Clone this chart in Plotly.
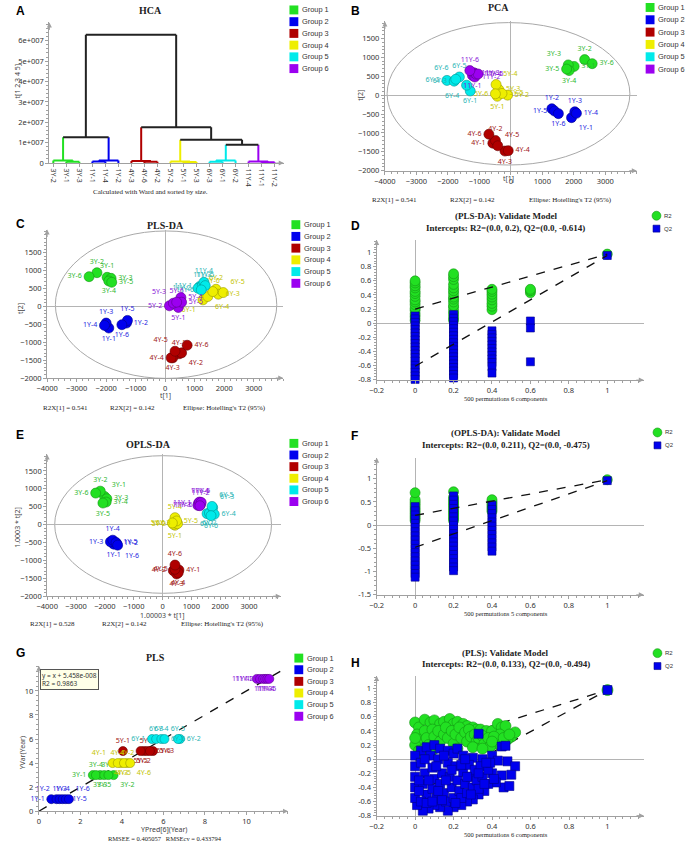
import plotly.graph_objects as go

W, H = 686, 849
SERIF = "Liberation Serif"
SANS = "Noto Sans"
LEG = "Liberation Sans"
AX_COL = "#a0a0a0"

group_names = ["Group 1", "Group 2", "Group 3", "Group 4", "Group 5", "Group 6"]
group_fill = ["#22e022", "#0000ee", "#b00000", "#eeee00", "#00eaea", "#9b00f0"]
group_edge = ["#149614", "#000088", "#6a0000", "#9a9a00", "#009393", "#5a008c"]
group_text = ["#2fb82f", "#2626e0", "#a01515", "#c4c400", "#1fb4b4", "#8a16d8"]

# ---- A: HCA dendrogram ----
hca_leaves = ["3Y-2", "3Y-1", "3Y-3", "1Y-1", "1Y-4", "1Y-2", "4Y-3", "4Y-6", "4Y-2",
              "5Y-2", "5Y-1", "5Y-3", "6Y-3", "6Y-1", "6Y-2", "11Y-4", "11Y-1", "11Y-2"]
hca_leaf_group = [0, 0, 0, 1, 1, 1, 2, 2, 2, 3, 3, 3, 4, 4, 4, 5, 5, 5]
hca_left = [1, 0, 3, 20, 7, 6, 10, 9, 12, 26, 16, 15, 19, 27, 25, 23, 30]
hca_right = [2, 18, 4, 5, 8, 22, 11, 24, 13, 14, 17, 28, 21, 29, 31, 32, 33]
hca_height = [0.06e7, 0.12e7, 0.08e7, 0.13e7, 0.06e7, 0.10e7, 0.05e7, 0.08e7, 0.06e7,
              0.12e7, 0.04e7, 0.07e7, 1.26e7, 0.90e7, 1.14e7, 1.75e7, 6.30e7]

# ---- score plots (B, C, E, G) ----
samples = ["1Y-1", "1Y-2", "1Y-3", "1Y-4", "1Y-5", "1Y-6",
           "3Y-1", "3Y-2", "3Y-3", "3Y-4", "3Y-5", "3Y-6",
           "4Y-1", "4Y-2", "4Y-3", "4Y-4", "4Y-5", "4Y-6",
           "5Y-1", "5Y-2", "5Y-3", "5Y-4", "5Y-5", "5Y-6",
           "6Y-1", "6Y-2", "6Y-3", "6Y-4", "6Y-5", "6Y-6",
           "11Y-1", "11Y-2", "11Y-3", "11Y-4", "11Y-5", "11Y-6"]

pca_x = [1927, 1302, 2031, 2083, 1385, 1510,
         2010, 2344, 1823, 1850, 1771, 2583,
         -573, -490, -188, -83, -417, -698,
         -430, -104, -385, -469, -281, -490,
         -1290, -2030, -1800, -1406, -1635, -1750,
         -1219, -1146, -1167, -1100, -1040, -1302]
pca_y = [-596, -360, -440, -480, -420, -490,
         760, 940, 800, 650, 690, 833,
         -1272, -1200, -1480, -1470, -1340, -1035,
         -30, 0, 150, 281, 44, 35,
         110, 390, 370, 263, 480, 420,
         520, 480, 590, 555, 560, 650]
pca_group = {"3Y": 0, "1Y": 1, "4Y": 2, "5Y": 3, "6Y": 4, "11Y": 5}
pca_pos = ["br", "t", "t", "r", "l", "b", "r", "t", "tl", "b", "l", "r",
           "l", "t", "b", "r", "tr", "l", "b", "r", "r", "tr", "r", "l",
           "b", "l", "l", "bl", "t", "tl", "b", "r", "r", "r", "r", "t"]
pca_r2x = ["R2X[1] = 0.541", "R2X[2] = 0.142"]

plsda_x = [-1911, -1311, -2000, -2056, -1278, -1467,
           -1967, -2311, -1833, -1911, -1811, -2578,
           467, 556, 256, 200, 333, 744,
           444, 144, 278, 533, 556, 389,
           1278, 1722, 1800, 1444, 1967, 1611,
           1167, 1111, 1256, 1311, 1356, 1222]
plsda_y = [-602, -463, -463, -528, -389, -509,
           815, 944, 787, 713, 676, 833,
           -1324, -1296, -1435, -1435, -1250, -1083,
           -28, 19, 93, 250, 120, 120,
           185, 481, 343, 278, 389, 417,
           556, 509, 583, 676, 583, 463]
plsda_group = {"3Y": 0, "1Y": 1, "4Y": 2, "6Y": 3, "11Y": 4, "5Y": 5}
plsda_pos = ["b", "r", "t", "l", "t", "b", "t", "t", "r", "b", "r", "l",
             "t", "br", "b", "l", "tl", "r", "b", "l", "tl", "r", "r", "t",
             "bl", "t", "r", "br", "tr", "t", "l", "l", "t", "t", "t", "l"]

opls_x = [-1693, -1591, -1807, -1727, -1614, -1557,
          -2011, -2159, -1932, -1955, -2068, -2318,
          568, 375, 489, 545, 432, 432,
          432, 375, 523, 432, 489, 341,
          1545, 1625, 1739, 1795, 1716, 1682,
          1250, 1318, 1227, 1284, 1341, 1295]
opls_y = [-546, -528, -481, -435, -500, -574,
          787, 935, 722, 630, 602, 880,
          -1269, -1287, -1380, -1343, -1250, -1130,
          -19, 9, 28, 194, 102, 46,
          306, 324, 472, 287, 509, 250,
          602, 565, 537, 630, 620, 528]
opls_group = {"3Y": 0, "1Y": 1, "4Y": 2, "5Y": 3, "6Y": 4, "11Y": 5}
opls_pos = ["b", "r", "l", "t", "r", "br", "tr", "t", "r", "r", "b", "l",
            "r", "l", "b", "b", "l", "t", "b", "l", "l", "t", "r", "l",
            "b", "b", "tr", "r", "tr", "b", "l", "t", "l", "t", "t", "l"]
opls_r2x = ["R2X[1] = 0.528", "R2X[2] = 0.142"]

pls_x = [0.6, 0.85, 1.0, 1.15, 1.3, 1.45,
         2.6, 3.6, 2.95, 2.75, 3.15, 3.35,
         3.55, 4.25, 3.95, 3.8, 4.1, 4.4,
         4.05, 5.05, 5.5, 5.2, 4.9, 5.35,
         5.45, 6.8, 5.65, 5.9, 6.7, 6.05,
         10.5, 10.65, 10.8, 10.9, 11.0, 11.1]
pls_y = [1, 1, 1, 1, 1, 1,
         3, 3, 3, 3, 3, 3,
         4, 4, 4, 4, 4, 4,
         5, 5, 5, 5, 5, 5,
         6, 6, 6, 6, 6, 6,
         11, 11, 11, 11, 11, 11]
pls_group = {"3Y": 0, "1Y": 1, "5Y": 2, "4Y": 3, "6Y": 4, "11Y": 5}
pls_pos = ["l", "tl", "t", "t", "r", "tr", "l", "br", "b", "t", "b", "t",
           "tl", "t", "b", "t", "b", "br", "t", "b", "r", "t", "b", "r",
           "l", "r", "t", "t", "t", "r", "l", "l", "b", "b", "b", "l"]
pls_intercept = 5.458e-8
pls_r2 = 0.9863

# ---- permutation tests (D, F, H) ----
perm_x = [0.0, 0.2, 0.4, 0.6, 1.0]
d_r2 = [[0.04, 0.09, 0.13, 0.18, 0.21, 0.26, 0.3, 0.33, 0.38, 0.42, 0.45, 0.5, 0.53, 0.57, 0.6],
        [0.04, 0.08, 0.13, 0.17, 0.22, 0.25, 0.3, 0.34, 0.37, 0.42, 0.46, 0.5, 0.55, 0.62, 0.66, 0.7],
        [0.19, 0.24, 0.28, 0.33, 0.37, 0.41, 0.45, 0.48],
        [0.43, 0.46, 0.48],
        [0.98]]
d_q2 = [[0.1, 0.06, 0.01, -0.04, -0.09, -0.14, -0.19, -0.24, -0.29, -0.34, -0.39, -0.44,
         -0.49, -0.54, -0.6, -0.65, -0.7, -0.75, -0.8],
        [0.12, 0.07, 0.02, -0.03, -0.08, -0.13, -0.18, -0.23, -0.28, -0.33, -0.38, -0.43,
         -0.48, -0.53, -0.58, -0.63, -0.68, -0.73, -0.78],
        [-0.11, -0.16, -0.21, -0.26, -0.31, -0.36, -0.41, -0.46, -0.51, -0.56, -0.62, -0.71],
        [0.03, -0.07, -0.55],
        [0.96]]
d_intercepts = [0.2, -0.614]

f_r2 = [[0.1, 0.15, 0.2, 0.25, 0.3, 0.35, 0.4, 0.45, 0.5, 0.55, 0.7],
        [0.1, 0.15, 0.2, 0.25, 0.3, 0.35, 0.4, 0.45, 0.5, 0.55, 0.6, 0.72],
        [0.3, 0.35, 0.4, 0.45, 0.5, 0.55],
        [],
        [0.98]]
f_q2 = [[0.4, 0.31, 0.22, 0.13, 0.04, -0.05, -0.14, -0.23, -0.32, -0.41, -0.5, -0.59,
         -0.68, -0.77, -0.86, -0.95, -1.04, -1.12],
        [0.63, 0.54, 0.45, 0.36, 0.27, 0.18, 0.09, 0.0, -0.09, -0.18, -0.27, -0.36,
         -0.45, -0.54, -0.63, -0.72, -0.81, -0.9, -0.98],
        [0.43, 0.34, 0.25, 0.16, 0.07, -0.02, -0.11, -0.2, -0.29, -0.38, -0.47, -0.56],
        [],
        [0.96]]
f_intercepts = [0.211, -0.475]

h_r2_x = [0.0, 0.02, 0.05, 0.08, 0.1, 0.13, 0.15, 0.18, 0.2, 0.22, 0.25, 0.27, 0.3, 0.32,
          0.34, 0.37, 0.4, 0.43, 0.45, 0.47, 0.5, 0.52, 0.48, 0.44, 0.42,
          0.01, 0.03, 0.0, 0.02, 0.05, 0.06, 0.07, 0.09, 0.1, 0.12, 0.13, 0.15, 0.16, 0.17,
          0.19, 0.2, 0.21, 0.23, 0.24, 0.26, 0.27, 0.28, 0.29, 0.31, 0.32, 0.33, 0.35, 0.36,
          0.38, 0.39, 0.41, 0.4, 0.46, 0.49, 0.05, 0.1, 0.22, 0.3, 0.35, 0.02, 0.0, 0.08, 1.0]
h_r2_y = [0.52, 0.45, 0.56, 0.52, 0.55, 0.5, 0.53, 0.57, 0.5, 0.53, 0.5, 0.47, 0.45, 0.42,
          0.42, 0.4, 0.4, 0.5, 0.45, 0.47, 0.32, 0.38, 0.28, 0.35, 0.22,
          0.35, 0.28, 0.2, 0.12, 0.4, 0.3, 0.2, 0.42, 0.32, 0.4, 0.25, 0.35, 0.45, 0.3,
          0.4, 0.22, 0.35, 0.45, 0.3, 0.38, 0.25, 0.42, 0.32, 0.35, 0.25, 0.3, 0.33, 0.22,
          0.3, 0.18, 0.32, 0.25, 0.3, 0.35, 0.15, 0.15, 0.15, 0.17, 0.15, 0.05, 0.3, 0.08, 0.98]
h_q2_x = [0.03, 0.06, 0.1, 0.13, 0.17, 0.2, 0.22, 0.33, 0.25, 0.3, 0.35, 0.4, 0.43, 0.45,
          0.47, 0.48, 0.52, 0.5, 0.45, 0.46, 0.49, 0.42, 0.4, 0.38, 0.36, 0.33, 0.3, 0.27,
          0.24, 0.2, 0.17, 0.13, 0.1, 0.07, 0.04, 0.01, 0.0, 0.0, 0.0, 0.0, 0.0,
          0.03, 0.05, 0.04, 0.06, 0.03, 0.08, 0.09, 0.1, 0.09, 0.11, 0.12, 0.14, 0.13, 0.15,
          0.16, 0.17, 0.18, 0.19, 0.2, 0.21, 0.22, 0.23, 0.24, 0.25, 0.26, 0.27, 0.28, 0.29,
          0.3, 0.31, 0.32, 0.33, 0.34, 0.35, 0.36, 0.38, 0.39, 0.41, 0.37, 0.07, 0.12, 0.02,
          0.05, 0.15, 0.19, 0.24, 0.27, 0.16, 0.11, 0.06, 0.21, 0.09, 0.26, 0.02, 0.14, 0.29,
          0.33, 1.0]
h_q2_y = [0.12, 0.17, 0.2, 0.15, 0.12, 0.08, 0.15, 0.36, 0.05, 0.02, 0.0, 0.05, -0.02, 0.18,
          0.19, -0.03, -0.1, -0.22, -0.23, -0.4, -0.38, -0.33, -0.2, -0.35, -0.45, -0.5,
          -0.57, -0.6, -0.65, -0.68, -0.73, -0.68, -0.65, -0.7, -0.73, -0.65, -0.55, -0.4,
          -0.25, -0.1, 0.05,
          -0.05, -0.2, -0.35, -0.5, -0.6, 0.05, -0.12, -0.28, -0.42, -0.55, 0.0, -0.2, -0.35,
          -0.48, -0.6, -0.05, -0.25, -0.4, -0.55, -0.1, -0.3, -0.45, -0.55, -0.18, -0.35,
          -0.48, -0.08, -0.25, -0.4, -0.15, -0.3, -0.42, -0.1, -0.25, -0.35, -0.15, -0.05,
          -0.28, -0.05, -0.3, -0.45, -0.45, 0.0, 0.05, -0.15, -0.08, -0.25, -0.3, -0.1, -0.62,
          -0.62, -0.6, 0.0, -0.3, -0.58, -0.5, -0.2, 0.98]
h_intercepts = [0.133, -0.494]
h_ends = [0.98, 0.98]

POS = {"t": "top center", "b": "bottom center", "l": "middle left", "r": "middle right",
       "tl": "top left", "tr": "top right", "bl": "bottom left", "br": "bottom right"}

fig = go.Figure()
layout = dict(width=W, height=H, margin=dict(l=0, r=0, t=0, b=0),
              paper_bgcolor="white", plot_bgcolor="white", showlegend=False)
shapes = []
annotations = []


def note(px, py, s, size=8, family=SERIF, color="#222", xanchor="center", angle=0, bold=False):
    annotations.append(dict(x=px / W, y=1 - py / H, xref="paper", yref="paper",
                            text="<b>%s</b>" % s if bold else s, showarrow=False,
                            font=dict(size=size, family=family, color=color),
                            xanchor=xanchor, yanchor="middle", textangle=angle))


def add_axes(k, xr, yr, xcal, ycal, xt, yt, xtt=None, ytt=None, xminor=None, yminor=None,
             zero=True, xangle=0, xfont=7.5):
    sx = "" if k == 1 else str(k)
    # calibration: (pixel of value 0, pixels per unit)
    x0 = xcal[0] + xr[0] * xcal[1]
    x1 = xcal[0] + xr[1] * xcal[1]
    ytop = ycal[0] - yr[1] * ycal[1]
    ybot = ycal[0] - yr[0] * ycal[1]
    common = dict(showline=True, linecolor=AX_COL, linewidth=1, ticks="outside", ticklen=3,
                  tickcolor=AX_COL, showgrid=False, zeroline=zero, zerolinecolor="#b4b4b4",
                  zerolinewidth=1, fixedrange=True, tickmode="array")
    xaxis = dict(common, domain=[x0 / W, x1 / W], range=xr, anchor="y" + sx,
                 tickvals=xt, ticktext=xtt, tickangle=xangle,
                 tickfont=dict(family=SANS, size=xfont, color="#333"))
    yaxis = dict(common, domain=[1 - ybot / H, 1 - ytop / H], range=yr,
                 anchor="x" + sx, tickvals=yt, ticktext=ytt,
                 tickfont=dict(family=SANS, size=7.5, color="#333"))
    if xminor:
        xaxis["minor"] = dict(ticks="outside", ticklen=2, tickcolor=AX_COL, dtick=xminor,
                              showgrid=False)
    if yminor:
        yaxis["minor"] = dict(ticks="outside", ticklen=2, tickcolor=AX_COL, dtick=yminor,
                              showgrid=False)
    layout["xaxis" + sx] = xaxis
    layout["yaxis" + sx] = yaxis
    xref, yref = "x" + sx, "y" + sx
    annotations.append(dict(x=xr[1], y=yr[0], xref=xref, yref=yref, ax=-9, ay=0, text="",
                            showarrow=True, arrowhead=2, arrowsize=1, arrowwidth=1,
                            arrowcolor=AX_COL))
    annotations.append(dict(x=xr[0], y=yr[1], xref=xref, yref=yref, ax=0, ay=9, text="",
                            showarrow=True, arrowhead=2, arrowsize=1, arrowwidth=1,
                            arrowcolor=AX_COL))
    return xref, yref


def square_legend(px, py0, step):
    for i, (n, c) in enumerate(zip(group_names, group_fill)):
        cy = py0 + i * step
        shapes.append(dict(type="rect", xref="paper", yref="paper", x0=px / W, x1=(px + 9) / W,
                           y0=1 - (cy + 4.5) / H, y1=1 - (cy - 4.5) / H, fillcolor=c,
                           line=dict(width=0)))
        note(px + 11, cy, n, size=7.4, family=LEG, color="#333", xanchor="left")


def perm_legend(px, py):
    shapes.append(dict(type="circle", xref="paper", yref="paper", x0=(px - 4.5) / W,
                       x1=(px + 4.5) / W, y0=1 - (py + 4.5) / H, y1=1 - (py - 4.5) / H,
                       fillcolor=group_fill[0], line=dict(color=group_edge[0], width=0.6)))
    note(px + 6, py, "R2", size=6, family=LEG, color="#333", xanchor="left")
    shapes.append(dict(type="rect", xref="paper", yref="paper", x0=(px - 3.5) / W,
                       x1=(px + 3.5) / W, y0=1 - (py + 13 + 3.5) / H, y1=1 - (py + 13 - 3.5) / H,
                       fillcolor=group_fill[1], line=dict(color=group_edge[1], width=0.6)))
    note(px + 6, py + 13, "Q2", size=6, family=LEG, color="#333", xanchor="left")


def score_points(xref, yref, xs, ys, gmap, pos, size=10):
    for g in range(6):
        idx = [i for i, s in enumerate(samples) if gmap[s.split("-")[0]] == g]
        fig.add_trace(go.Scatter(
            x=[xs[i] for i in idx], y=[ys[i] for i in idx], xaxis=xref, yaxis=yref,
            mode="markers+text", text=[samples[i] for i in idx],
            textposition=[POS[pos[i]] for i in idx],
            textfont=dict(family=SANS, size=7, color=group_text[g]),
            marker=dict(size=size, color=group_fill[g], line=dict(color=group_edge[g], width=0.6)),
            cliponaxis=False, hoverinfo="skip"))


def ellipse(xref, yref, ex, ey):
    shapes.append(dict(type="circle", xref=xref, yref=yref, x0=ex[0], x1=ex[1], y0=ey[0],
                       y1=ey[1], line=dict(color="#a8a8a8", width=1), layer="below"))


def perm_points(xref, yref, r2x, r2y, q2x, q2y, intercepts, ends, size_c=10, size_s=8,
                lines_on_top=True):
    def lines():
        for b, e in zip(intercepts, ends):
            fig.add_trace(go.Scatter(x=[0, 1], y=[b, e], xaxis=xref, yaxis=yref, mode="lines",
                                     line=dict(color="#111", width=1.3, dash="dash"),
                                     hoverinfo="skip"))
    if not lines_on_top:
        lines()
    fig.add_trace(go.Scatter(x=r2x, y=r2y, xaxis=xref, yaxis=yref, mode="markers",
                             marker=dict(size=size_c, color=group_fill[0],
                                         line=dict(color=group_edge[0], width=0.6)),
                             cliponaxis=False, hoverinfo="skip"))
    fig.add_trace(go.Scatter(x=q2x, y=q2y, xaxis=xref, yaxis=yref, mode="markers",
                             marker=dict(size=size_s, symbol="square", color=group_fill[1],
                                         line=dict(color=group_edge[1], width=0.6)),
                             cliponaxis=False, hoverinfo="skip"))
    if lines_on_top:
        lines()


def columns(cols):
    xs, ys = [], []
    for px_, vals in zip(perm_x, cols):
        xs += [px_] * len(vals)
        ys += vals
    return xs, ys


# ================= A: HCA =================
xa, ya = add_axes(1, [-0.3, 17.7], [0, 6.9e7], (43, 13.23), (164, 20.5e-7),
                  list(range(len(hca_leaves))), [0, 1e7, 2e7, 3e7, 4e7, 5e7, 6e7],
                  xtt=hca_leaves,
                  ytt=["0", "1e+007", "2e+007", "3e+007", "4e+007", "5e+007", "6e+007"],
                  yminor=2e6, zero=False, xangle=90, xfont=7)
node_x = list(range(len(hca_leaves)))
node_h = [0.0] * len(hca_leaves)
node_g = list(hca_leaf_group)
segs = {}
for a, b, h in zip(hca_left, hca_right, hca_height):
    g = node_g[a] if node_g[a] == node_g[b] else None
    for c in (a, b):
        segs.setdefault(node_g[c], []).append(((node_x[c], node_h[c]), (node_x[c], h)))
    segs.setdefault(g, []).append(((node_x[a], h), (node_x[b], h)))
    node_x.append((node_x[a] + node_x[b]) / 2)
    node_h.append(h)
    node_g.append(g)
for g, lst in segs.items():
    xs, ys = [], []
    for p, q in lst:
        xs += [p[0], q[0], None]
        ys += [p[1], q[1], None]
    fig.add_trace(go.Scatter(x=xs, y=ys, xaxis=xa, yaxis=ya, mode="lines",
                             line=dict(color="#222" if g is None else group_fill[g], width=2),
                             hoverinfo="skip"))
note(142, 11, "HCA", size=10, bold=True)
note(7, 82, "t[1 2 3 4 5]", size=7, family=SANS, color="#444", angle=-90)
note(142, 193, "Calculated with Ward and sorted by size.", size=7)
square_legend(283, 10, 11.8)

# ================= B: PCA =================
xb, yb = add_axes(2, [-4000, 4000], [-2000, 1950], (508, 0.032), (95.7, 0.038),
                  [-4000, -3000, -2000, -1000, 0, 1000, 2000, 3000],
                  [-2000, -1500, -1000, -500, 0, 500, 1000, 1500], xminor=200, yminor=100)
ellipse(xb, yb, [-3930, 3780], [-1850, 1920])
score_points(xb, yb, pca_x, pca_y, pca_group, pca_pos)
note(495, 8, "PCA", size=10, bold=True)
note(506, 180, "t[1]", size=7, family=SANS, color="#444")
note(355, 96, "t[2]", size=7, family=SANS, color="#444", angle=-90)
note(390, 201, pca_r2x[0], size=7)
note(469, 201, pca_r2x[1], size=7)
note(569, 201, "Ellipse: Hotelling's T2 (95%)", size=7)
square_legend(645, 7.5, 12.4)

# ================= C: PLS-DA =================
xc, yc = add_axes(3, [-4000, 4000], [-2000, 2150], (156.7, 0.030), (308.3, 0.036),
                  [-4000, -3000, -2000, -1000, 0, 1000, 2000, 3000],
                  [-2000, -1500, -1000, -500, 0, 500, 1000, 1500], xminor=200, yminor=100)
ellipse(xc, yc, [-3720, 3780], [-2010, 2110])
score_points(xc, yc, plsda_x, plsda_y, plsda_group, plsda_pos)
note(157, 227, "PLS-DA", size=10, bold=True)
note(157, 398, "t[1]", size=7, family=SANS, color="#444")
note(9, 310, "t[2]", size=7, family=SANS, color="#444", angle=-90)
note(55, 410, pca_r2x[0], size=7)
note(123, 410, pca_r2x[1], size=7)
note(217, 410, "Ellipse: Hotelling's T2 (95%)", size=7)
square_legend(285, 226, 11.8)

# ================= D: PLS-DA permutations =================
xd, yd = add_axes(4, [-0.2, 1.19], [-0.81, 1.18], (410.7, 195.3), (325, 70.8),
                  [-0.2, 0, 0.2, 0.4, 0.6, 0.8, 1],
                  [-0.8, -0.6, -0.4, -0.2, 0, 0.2, 0.4, 0.6, 0.8, 1],
                  ytt=["-0.8", "-0.6", "-0.4", "-0.2", "0", "0.2", "0.4", "0.6", "0.8", "1"],
                  xminor=0.04, yminor=0.04)
rx, ry = columns(d_r2)
qx, qy = columns(d_q2)
perm_points(xd, yd, rx, ry, qx, qy, d_intercepts, [d_r2[-1][0], d_q2[-1][0]])
note(503, 217, "(PLS-DA): Validate Model", size=9, bold=True)
note(503, 229, "Intercepts: R2=(0.0, 0.2), Q2=(0.0, -0.614)", size=9, bold=True)
note(503, 401, "500 permutations 6 components", size=6.5)
perm_legend(656, 217)

# ================= E: OPLS-DA =================
xe, ye = add_axes(5, [-4000, 4100], [-2000, 1960], (154, 0.0293), (527.7, 0.036),
                  [-4000, -3000, -2000, -1000, 0, 1000, 2000, 3000],
                  [-2000, -1500, -1000, -500, 0, 500, 1000, 1500], xminor=200, yminor=100)
ellipse(xe, ye, [-3740, 3780], [-1920, 1925])
score_points(xe, ye, opls_x, opls_y, opls_group, opls_pos)
note(140, 447, "OPLS-DA", size=10, bold=True)
note(154, 619, "1.00003 * t[1]", size=7, family=SANS, color="#444")
note(7, 530, "1.0003 * t[2]", size=7, family=SANS, color="#444", angle=-90)
note(42, 628, opls_r2x[0], size=7)
note(115, 628, opls_r2x[1], size=7)
note(215, 628, "Ellipse: Hotelling's T2 (95%)", size=7)
square_legend(283, 446, 11.7)

# ================= F: OPLS-DA permutations =================
xf, yf = add_axes(6, [-0.2, 1.19], [-1.5, 1.45], (410.7, 195.3), (528.3, 46.7),
                  [-0.2, 0, 0.2, 0.4, 0.6, 0.8, 1], [-1.5, -1, -0.5, 0, 0.5, 1],
                  ytt=["-1.5", "-1", "-0.5", "0", "0.5", "1"], xminor=0.04, yminor=0.1)
rx, ry = columns(f_r2)
qx, qy = columns(f_q2)
perm_points(xf, yf, rx, ry, qx, qy, f_intercepts, [f_r2[-1][0], f_q2[-1][0]])
note(503, 436, "(OPLS-DA): Validate Model", size=9, bold=True)
note(503, 448, "Intercepts: R2=(0.0, 0.211), Q2=(0.0, -0.475)", size=9, bold=True)
note(503, 617, "500 permutations 5 components", size=6.5)
perm_legend(657, 435)

# ================= G: PLS =================
xg, yg = add_axes(7, [0, 12], [0, 12.1], (28.3, 21.1), (816, 12.1),
                  [0, 2, 4, 6, 8, 10], [0, 2, 4, 6, 8, 10], xminor=0.4, yminor=0.4, zero=False)
fit_x = [0, 12]
fig.add_trace(go.Scatter(x=fit_x, y=[v + pls_intercept for v in fit_x], xaxis=xg, yaxis=yg,
                         mode="lines", line=dict(color="#111", width=1.3, dash="dash"),
                         hoverinfo="skip"))
score_points(xg, yg, pls_x, pls_y, pls_group, pls_pos, size=9)
fit_text = ("y = x + %.3e<br>R2 = %.4f" % (pls_intercept, pls_r2)).replace("e-08", "e-008")
annotations.append(dict(x=29 / W, y=1 - 673 / H, xref="paper", yref="paper",
                        xanchor="left", yanchor="top", align="left", showarrow=False,
                        text=fit_text, font=dict(family=SANS, size=6.5, color="#333"),
                        bgcolor="#ffffe8", bordercolor="#555", borderwidth=1, borderpad=1))
note(147, 661, "PLS", size=10, bold=True)
note(155, 834, "YPred[6](Year)", size=7, family=SANS, color="#444")
note(157, 843, "RMSEE = 0.405057   RMSEcv = 0.433794", size=6.5)
note(12, 757, "YVar(Year)", size=7, family=SANS, color="#444", angle=-90)
square_legend(288, 662, 11.7)

# ================= H: PLS permutations =================
xh, yh = add_axes(8, [-0.2, 1.19], [-0.8, 1.18], (410.7, 195.5), (763.7, 71),
                  [-0.2, 0, 0.2, 0.4, 0.6, 0.8, 1],
                  [-0.8, -0.6, -0.4, -0.2, 0, 0.2, 0.4, 0.6, 0.8, 1],
                  ytt=["-0.8", "-0.6", "-0.4", "-0.2", "0", "0.2", "0.4", "0.6", "0.8", "1"],
                  xminor=0.04, yminor=0.04)
perm_points(xh, yh, h_r2_x, h_r2_y, h_q2_x, h_q2_y, h_intercepts, h_ends,
            size_c=11, size_s=9, lines_on_top=False)
note(503, 657, "(PLS): Validate Model", size=9, bold=True)
note(503, 668, "Intercepts: R2=(0.0, 0.133), Q2=(0.0, -0.494)", size=9, bold=True)
note(503, 839, "500 permutations 6 components", size=6.5)
perm_legend(657, 657)

# panel letters
for letter, px, py in [("A", 3, 11), ("B", 344, 11), ("C", 3, 225), ("D", 344, 227),
                       ("E", 3, 438), ("F", 344, 439), ("G", 3, 657), ("H", 344, 667)]:
    note(px, py, letter, size=12, family="Liberation Sans", color="#000", xanchor="left",
         bold=True)

layout["shapes"] = shapes
layout["annotations"] = annotations
fig.update_layout(**layout)
# drop the browser's default body margin so the figure sits at the page corner
fig.write_html("out.html", config={"displayModeBar": False, "staticPlot": True},
               post_script="document.body.style.margin = '0';")
